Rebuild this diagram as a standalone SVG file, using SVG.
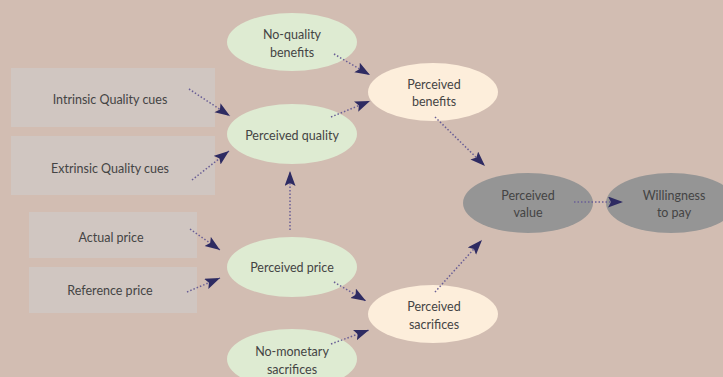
<svg xmlns="http://www.w3.org/2000/svg" width="723" height="377" viewBox="0 0 723 377">
<defs>
<style>
.box{fill:#d0c6c1}
.green{fill:#deebd2}
.cream{fill:#fdeedb}
.grey{fill:#959595}
text{font-family:Lato,"Open Sans","Liberation Sans",sans-serif;font-size:12.5px;fill:#444;text-anchor:middle}
.c line{stroke:#6a5f96;stroke-width:1.5;stroke-dasharray:1.5 2;fill:none;marker-end:url(#ah)}
</style>
<marker id="ah" markerUnits="userSpaceOnUse" markerWidth="16" markerHeight="12" refX="15" refY="5.5" orient="auto">
<path d="M0,0 L15,5.5 L0,11 L3,5.5 z" fill="#2e2b62"/>
</marker>
</defs>
<rect width="723" height="377" fill="#d2bdb2"/>
<g id="intrinsic"><rect class="box" x="11" y="68" width="204" height="59"/><text x="110" y="104">Intrinsic Quality cues</text></g>
<g id="extrinsic"><rect class="box" x="11" y="136" width="204" height="59"/><text x="110" y="173">Extrinsic Quality cues</text></g>
<g id="actual"><rect class="box" x="29" y="212" width="168" height="46"/><text x="111" y="242">Actual price</text></g>
<g id="reference"><rect class="box" x="29" y="267" width="168" height="46"/><text x="110" y="295">Reference price</text></g>
<g id="noquality"><ellipse class="green" cx="292" cy="42" rx="65" ry="29"/><text x="292" y="39">No-quality</text><text x="292" y="57">benefits</text></g>
<g id="pquality"><ellipse class="green" cx="292" cy="134" rx="65" ry="30"/><text x="292" y="140">Perceived quality</text></g>
<g id="pprice"><ellipse class="green" cx="292" cy="267" rx="65" ry="30"/><text x="292" y="272">Perceived price</text></g>
<g id="nomonetary"><ellipse class="green" cx="292" cy="359" rx="65" ry="30"/><text x="292" y="356">No-monetary</text><text x="292" y="374">sacrifices</text></g>
<g id="pbenefits"><ellipse class="cream" cx="433" cy="92" rx="65" ry="29"/><text x="434" y="89">Perceived</text><text x="434" y="106">benefits</text></g>
<g id="psacrifices"><ellipse class="cream" cx="433" cy="314" rx="65" ry="29"/><text x="434" y="311">Perceived</text><text x="434" y="329">sacrifices</text></g>
<g id="pvalue"><ellipse class="grey" cx="528" cy="203" rx="65" ry="30"/><text x="528" y="200">Perceived</text><text x="528" y="217">value</text></g>
<g id="wtp"><ellipse class="grey" cx="671" cy="203" rx="65" ry="30"/><text x="674" y="200">Willingness</text><text x="674" y="217">to pay</text></g>
<g class="c" id="connectors">
<line x1="189" y1="89" x2="230" y2="116"/>
<line x1="192" y1="180" x2="229" y2="151"/>
<line x1="334" y1="54" x2="370" y2="75"/>
<line x1="331" y1="117" x2="370" y2="101"/>
<line x1="290" y1="230" x2="290" y2="171"/>
<line x1="190" y1="229" x2="220" y2="250"/>
<line x1="187" y1="292" x2="220" y2="278"/>
<line x1="334" y1="282" x2="366" y2="301"/>
<line x1="331" y1="344" x2="369" y2="330"/>
<line x1="435" y1="117" x2="485" y2="166"/>
<line x1="435" y1="292" x2="482" y2="240"/>
<line x1="574" y1="202" x2="623" y2="202"/>
</g>
</svg>
